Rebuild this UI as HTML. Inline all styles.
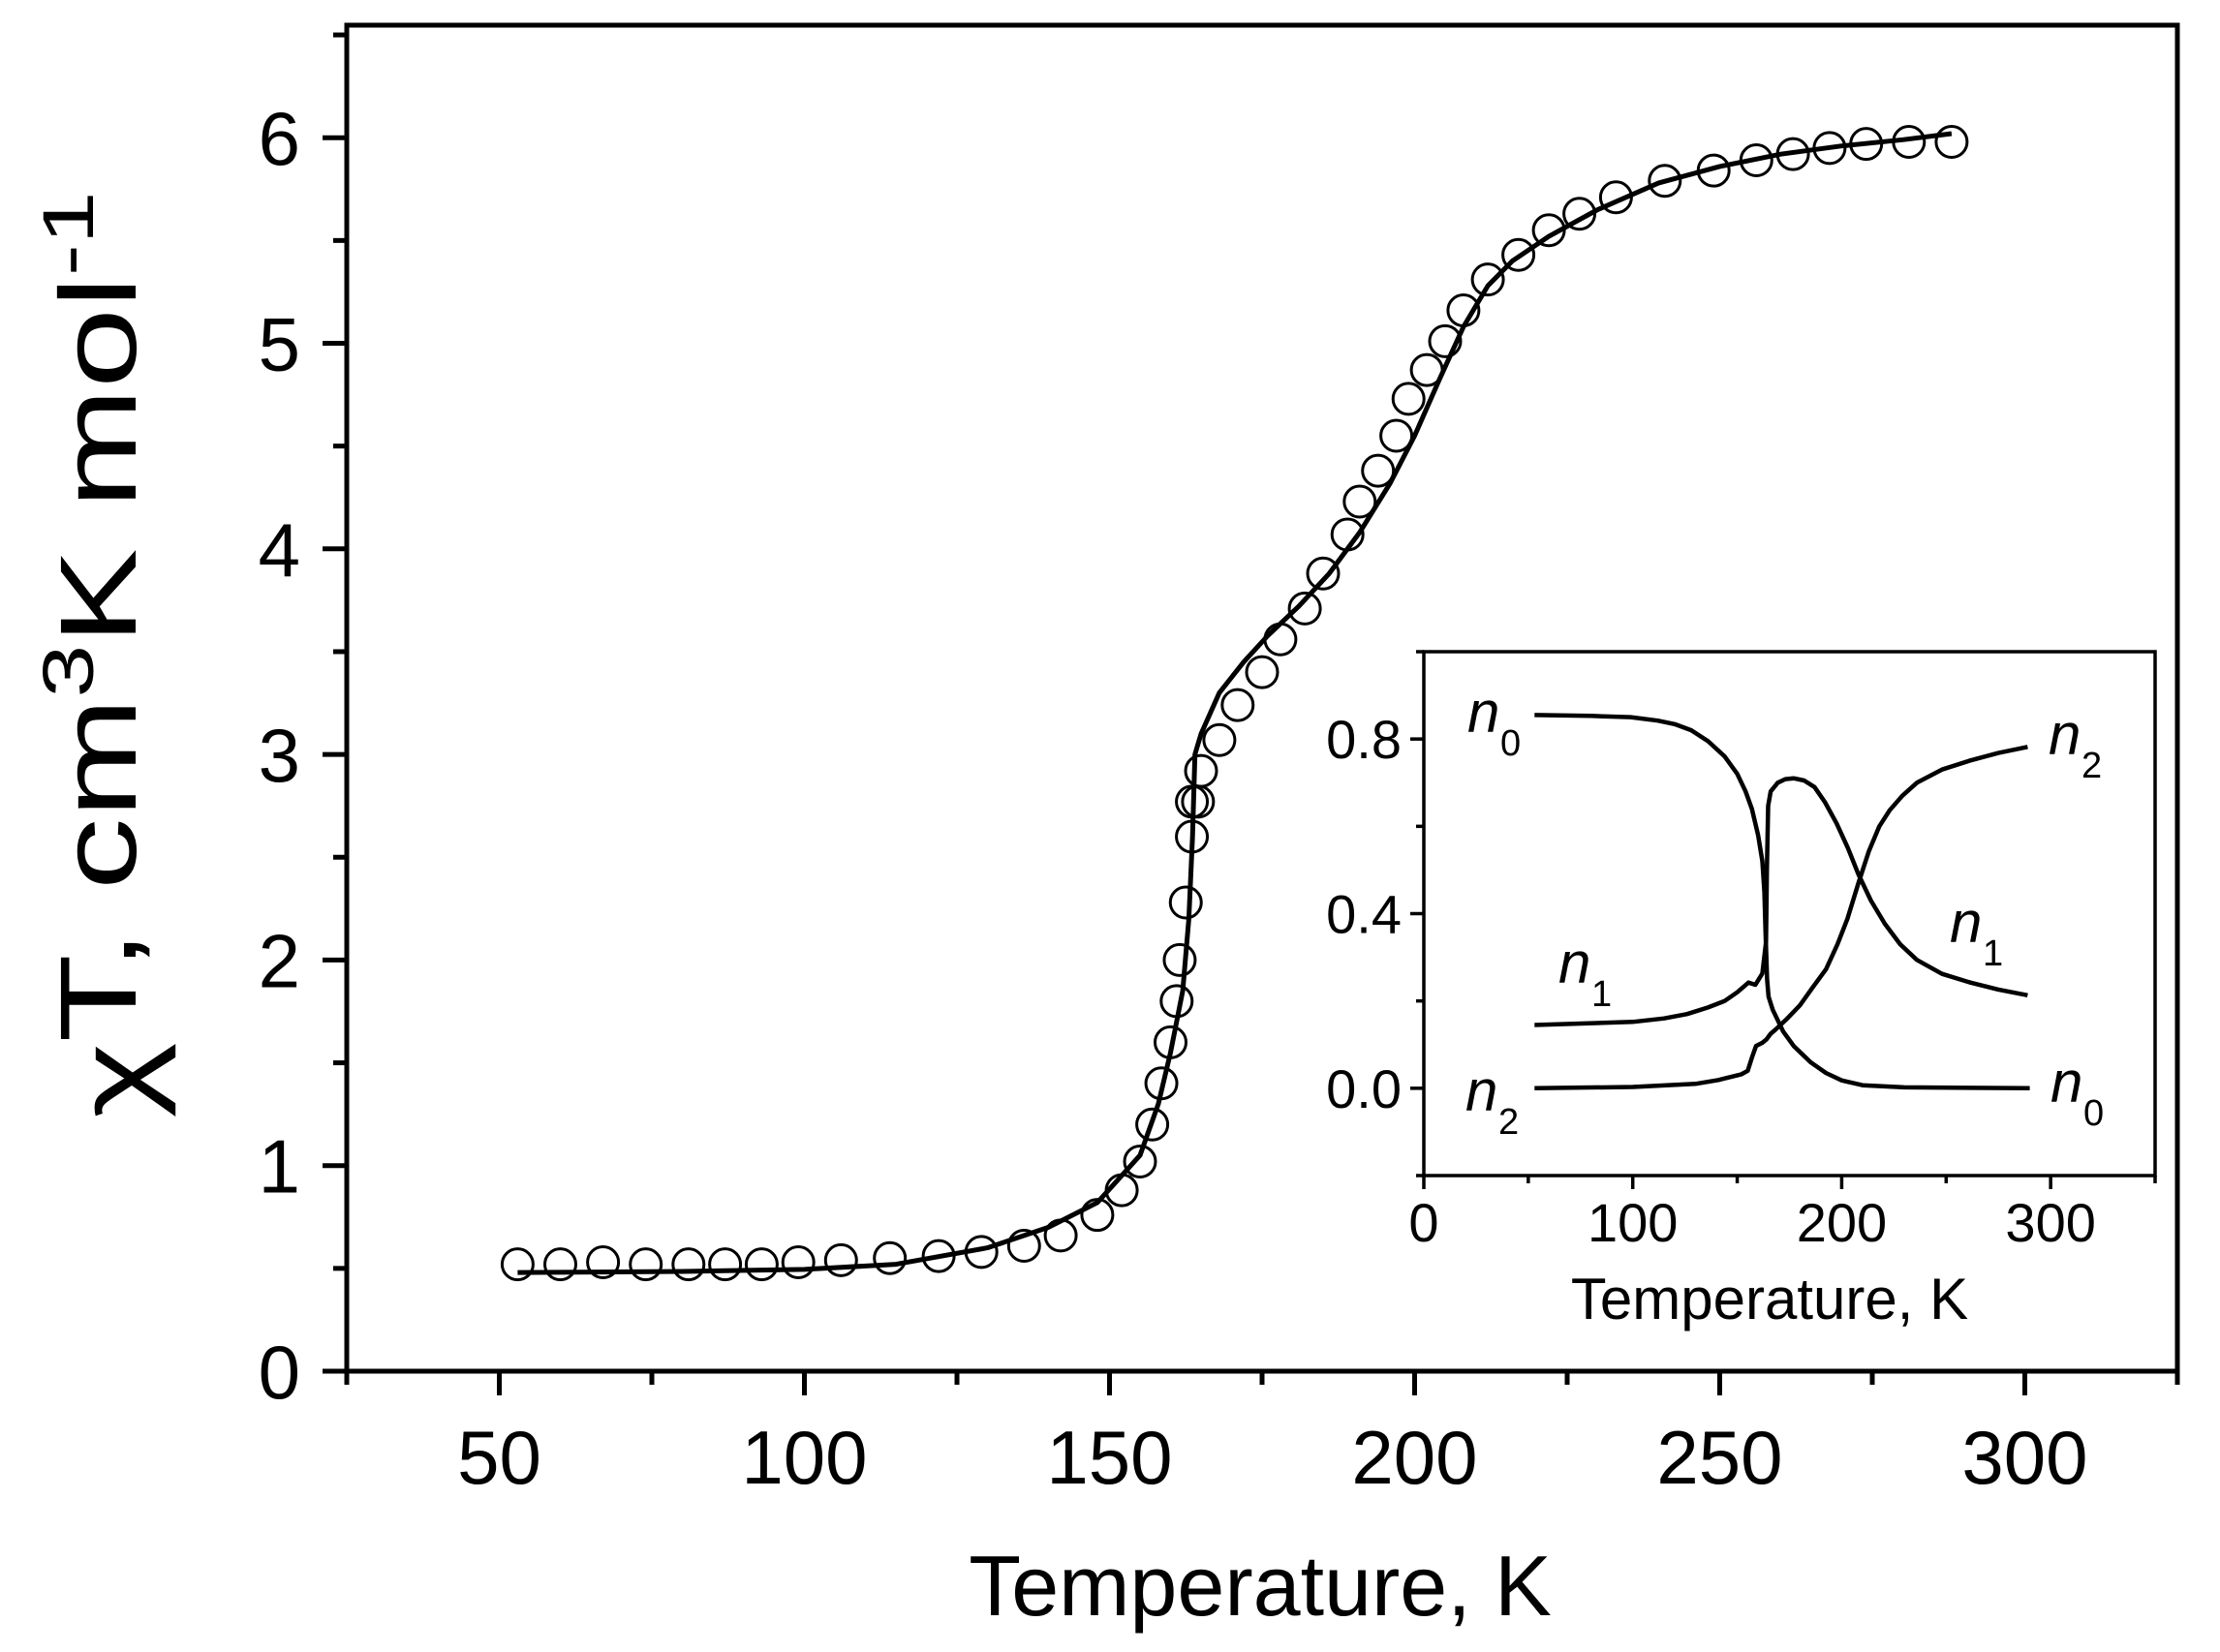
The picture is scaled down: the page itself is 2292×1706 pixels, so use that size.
<!DOCTYPE html>
<html><head><meta charset="utf-8"><style>html,body{margin:0;padding:0;background:#fff}svg{display:block}</style></head>
<body>
<svg width="2292" height="1706" viewBox="0 0 2292 1706" xmlns="http://www.w3.org/2000/svg" font-family="Liberation Sans, Arial, sans-serif">
<rect width="2292" height="1706" fill="#fff"/>
<g id="main"></g>
<g id="inset"></g>
<script>
(function(){
const NS="http://www.w3.org/2000/svg";
function el(p,t,a,txt){const e=document.createElementNS(NS,t);for(const k in a)e.setAttribute(k,a[k]);if(txt!==undefined)e.textContent=txt;p.appendChild(e);return e;}
const m=document.getElementById('main');
const L=358,R=2248,T=26,B=1416;
const X=v=>L+(v-25)*(R-L)/300, Y=v=>B-v*212.3;
el(m,'rect',{x:L,y:T,width:R-L,height:B-T,fill:'none',stroke:'#000','stroke-width':5});
for(let v=25;v<=325;v+=25){const maj=v%50==0;el(m,'line',{x1:X(v),x2:X(v),y1:B,y2:B+(maj?25:14),stroke:'#000','stroke-width':5});
 if(maj&&v<=300)el(m,'text',{x:X(v),y:1532,'font-size':78,'text-anchor':'middle'},v);}
for(let v=0;v<=6.5;v+=0.5){const maj=Math.abs(v-Math.round(v))<1e-6;el(m,'line',{x1:L,x2:L-(maj?25:14),y1:Y(v),y2:Y(v),stroke:'#000','stroke-width':5});
 if(maj)el(m,'text',{x:310,y:Y(v)+28,'font-size':78,'text-anchor':'end'},v);}
el(m,'text',{x:1301,y:1668,'font-size':88,'text-anchor':'middle'},'Temperature, K');
const yt=el(m,'text',{transform:'translate(140,676) rotate(-90) scale(1.33,1)','font-size':112,'text-anchor':'middle'});
el(yt,'tspan',{dy:18},'χ');el(yt,'tspan',{dy:-18},'T, cm');el(yt,'tspan',{dy:-44,'font-size':74},'3');el(yt,'tspan',{dy:44},'K mol');el(yt,'tspan',{dy:-44,'font-size':74},'-1');
const fit=[[53,0.48],[80,0.485],[100,0.495],[115,0.52],[130,0.6],[140,0.7],[148,0.82],[155,1.05],[158,1.3],[160,1.55],[162,1.85],[163,2.2],[163.6,2.6],[164,3.0],[165,3.1],[168,3.3],[172,3.45],[176,3.58],[181,3.72],[186,3.88],[191,4.08],[196,4.32],[200,4.55],[204,4.82],[208,5.08],[212,5.28],[216,5.4],[222,5.52],[230,5.65],[240,5.78],[250,5.86],[260,5.92],[270,5.96],[280,5.99],[288,6.02]];
el(m,'polyline',{points:fit.map(p=>X(p[0]).toFixed(1)+','+Y(p[1]).toFixed(1)).join(' '),fill:'none',stroke:'#000','stroke-width':5,'stroke-linejoin':'round'});
const pts=[[53,0.52],[60,0.52],[67,0.53],[74,0.52],[81,0.52],[87,0.52],[93,0.52],[99,0.53],[106,0.54],[114,0.55],[122,0.56],[129,0.58],[136,0.61],[142,0.66],[148,0.76],[152,0.88],[155,1.02],[157,1.2],[158.5,1.4],[160,1.6],[161,1.8],[161.5,2.0],[162.5,2.28],[163.5,2.6],[163.5,2.77],[164.5,2.77],[165,2.92],[168,3.07],[171,3.24],[175,3.4],[178,3.56],[182,3.71],[185,3.88],[189,4.07],[191,4.23],[194,4.38],[197,4.55],[199,4.73],[202,4.87],[205,5.01],[208,5.16],[212,5.31],[217,5.43],[222,5.55],[227,5.63],[233,5.71],[241,5.79],[249,5.84],[256,5.89],[262,5.92],[268,5.95],[274,5.97],[281,5.98],[288,5.98]];
pts.forEach(p=>el(m,'circle',{cx:X(p[0]),cy:Y(p[1]),r:16,fill:'none',stroke:'#000','stroke-width':3}));
const g=document.getElementById('inset');
const iL=1470,iR=2225,iT=673,iB=1214;
const x=v=>iL+v*(iR-iL)/350, y=v=>iB-(v+0.2)*(iB-iT)/1.2;
el(g,'rect',{x:iL,y:iT,width:iR-iL,height:iB-iT,fill:'#fff',stroke:'#000','stroke-width':3.5});
for(let v=0;v<=350;v+=50){const maj=v%100==0;el(g,'line',{x1:x(v),x2:x(v),y1:iB,y2:iB+(maj?14:8),stroke:'#000','stroke-width':3.5});
 if(maj&&v<=300)el(g,'text',{x:x(v),y:1282,'font-size':56,'text-anchor':'middle'},v);}
for(let k=-1;k<=5;k++){const v=k*0.2;const maj=k%2==0;el(g,'line',{x1:iL,x2:iL-(maj?14:8),y1:y(v),y2:y(v),stroke:'#000','stroke-width':3.5});
 if(maj)el(g,'text',{x:1447,y:y(v)+20,'font-size':56,'text-anchor':'end'},v.toFixed(1));}
el(g,'text',{x:1827,y:1362,'font-size':60,'text-anchor':'middle'},'Temperature, K');
const n0=[[53,0.855],[80,0.853],[99,0.85],[112,0.842],[120,0.834],[128,0.82],[136,0.795],[144,0.76],[150,0.72],[154,0.68],[157,0.64],[160,0.58],[162,0.52],[163,0.45],[163.6,0.35],[164.3,0.25],[165,0.21],[167,0.18],[172,0.13],[177,0.097],[185,0.06],[192.5,0.035],[200,0.018],[210,0.007],[230,0.002],[290,0]];
const n1=[[53,0.145],[100,0.152],[115,0.16],[126,0.17],[136,0.185],[144,0.2],[150,0.22],[155.4,0.242],[158.7,0.237],[162,0.263],[163.8,0.335],[164.2,0.5],[164.8,0.647],[166,0.68],[169.4,0.7],[173,0.708],[177,0.71],[182,0.705],[187,0.69],[192,0.655],[197.6,0.606],[203,0.55],[208,0.49],[214,0.43],[220.6,0.377],[228,0.33],[236,0.294],[248,0.262],[261.6,0.242],[275,0.226],[289,0.213]];
const n2=[[53,0],[100,0.003],[130,0.01],[141,0.019],[152,0.032],[155,0.04],[157,0.07],[159,0.097],[162,0.104],[164,0.112],[166,0.125],[168,0.133],[174,0.16],[180,0.19],[186,0.23],[192.5,0.273],[198,0.33],[202.7,0.388],[208,0.47],[213,0.543],[218,0.6],[223,0.637],[229,0.67],[236,0.7],[248,0.73],[261.6,0.751],[275,0.768],[289,0.782]];
[n0,n1,n2].forEach(s=>el(g,'polyline',{points:s.map(p=>x(p[0]).toFixed(1)+','+y(p[1]).toFixed(1)).join(' '),fill:'none',stroke:'#000','stroke-width':4.5,'stroke-linejoin':'round'}));
function lab(nx,nb,sub){el(g,'text',{x:nx,y:nb,'font-size':60,'font-style':'italic'},'n');el(g,'text',{x:nx+34,y:nb+24,'font-size':38},sub);}
lab(1515,756,'0');lab(2115,779,'2');lab(2013,973,'1');lab(1609,1015,'1');lab(1513,1147,'2');lab(2117,1138,'0');
})();
</script>
</svg>
</body></html>
